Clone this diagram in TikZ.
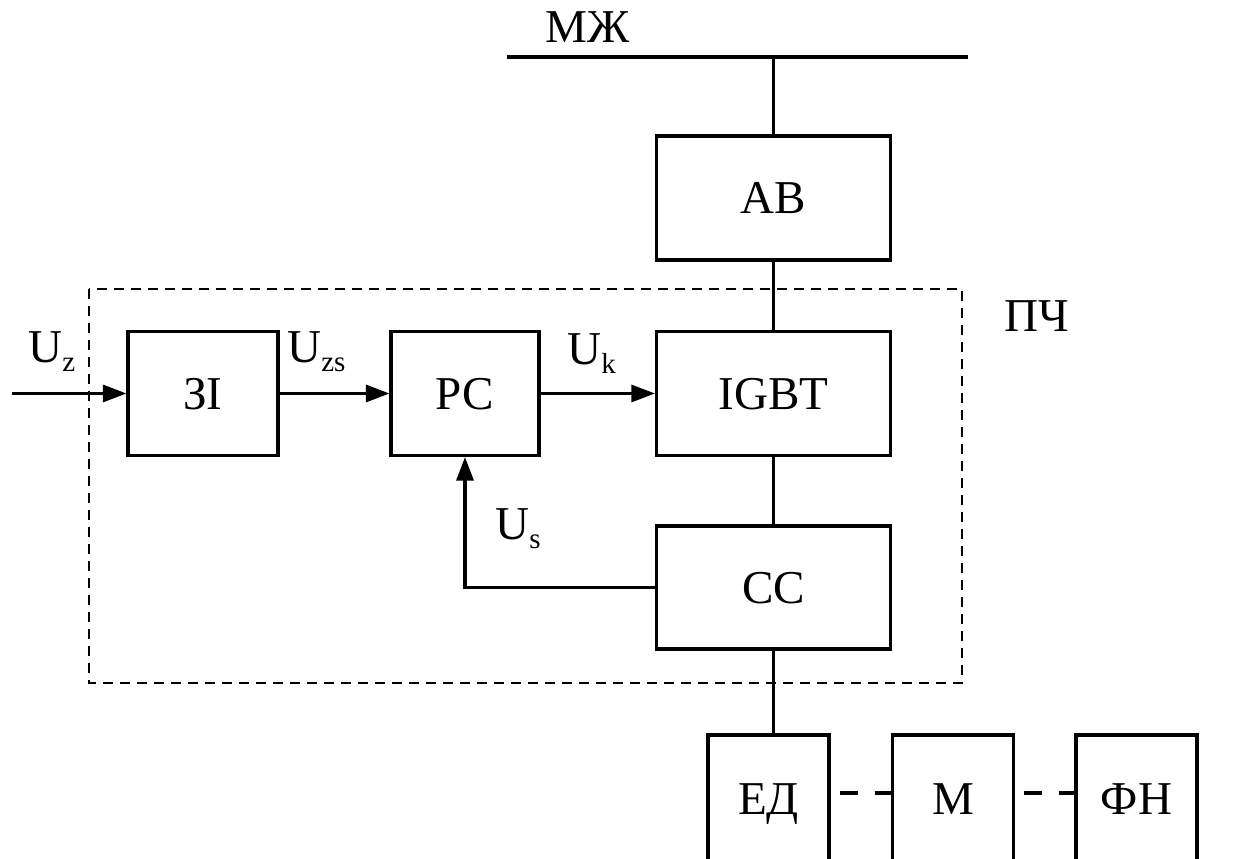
\documentclass[tikz,border=0pt]{standalone}
\usepackage{fontspec}
\setmainfont{Liberation Serif}
\usetikzlibrary{positioning,arrows.meta}
\newcommand{\sbs}[1]{\raisebox{-4.6pt}{\fontsize{16.5}{16.5}\selectfont #1}}

\begin{document}
\begin{tikzpicture}[
      font=\fontsize{26.8}{32}\selectfont,
      blk/.style={rectangle, draw, line width=1.8pt, minimum width=4.68cm,
        minimum height=2.48cm, inner sep=0pt, text depth=0pt, align=center},
      sblk/.style={blk, minimum width=3cm},
      lblk/.style={blk, minimum width=2.42cm, minimum height=2.56cm},
      wire/.style={line width=1.8pt},
      flow/.style={-{Triangle[length=0.47cm, width=0.34cm]}, line width=1.8pt},
      link/.style={line width=1.8pt, dash pattern=on 0.36cm off 0.34cm, dash phase=0.52cm},
      frame/.style={line width=1.2pt, dash pattern=on 0.2cm off 0.14cm},
      sig/.style={anchor=base west, inner sep=0pt},
    ]
    \useasboundingbox (0,0) rectangle (24.68,17.18);

    \coordinate (busl) at (10.14,16.04);
    \coordinate (busr) at (19.36,16.04);
    \draw[wire] (busl) -- (busr);
    \node[anchor=base, inner sep=0pt] (mzh) at (11.75,16.32) {МЖ};

    \draw[frame] (1.78,11.40) rectangle (19.24,3.52);
    \node[anchor=base, inner sep=0pt] (pch) at (20.73,10.54) {ПЧ};

    \node[blk] (ab)   at (15.47,13.22) {АВ};
    \node[blk] (igbt) at (15.47,9.31) {IGBT};
    \node[blk, minimum height=2.46cm] (cc) at (15.47,5.43) {СС};

    \node[sblk] (zi) at (4.06,9.31) {ЗІ};
    \node[sblk, minimum width=2.96cm] (rc) at (9.30,9.31) {РС};

    \node[lblk] (ed) at (15.37,1.20) {ЕД};
    \node[lblk] (m)  at (19.06,1.20) {М};
    \node[lblk] (fn) at (22.73,1.20) {ФН};

    \draw[wire] (ab.north) -- (ab.north |- busl);
    \draw[wire] (ab.south) -- (igbt.north);
    \draw[wire] (igbt.south) -- (cc.north);
    \draw[wire] (cc.south) -- (cc.south |- ed.north);

    \coordinate (uin) at (0.24,9.31);
    \draw[flow] (uin) -- (zi.west);
    \draw[flow] (zi.east) -- (rc.west);
    \draw[flow] (rc.east) -- (igbt.west);
    \draw[flow] (cc.west) -| (rc.south);

    \node[sig] (uz)  at (0.56,9.92)  {U\sbs{z}};
    \node[sig] (uzs) at (5.74,9.92)  {U\sbs{zs}};
    \node[sig] (uk)  at (11.34,9.88) {U\sbs{k}};
    \node[sig] (us)  at (9.90,6.38)  {U\sbs{s}};

    \draw[link] ([yshift=0.12cm]ed.east) -- ([yshift=0.12cm]m.west);
    \draw[link] ([yshift=0.12cm]m.east) -- ([yshift=0.12cm]fn.west);
  \end{tikzpicture}
\end{document}
